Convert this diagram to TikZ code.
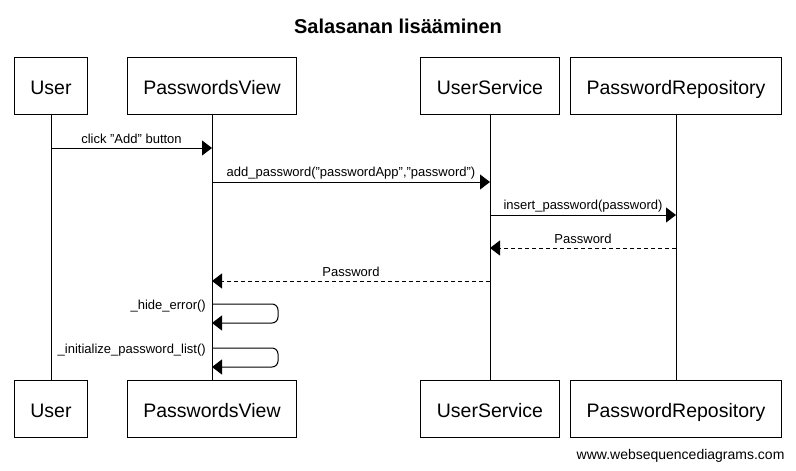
\documentclass[tikz,border=0pt]{standalone}
\usepackage{fontspec}
\setmainfont{Liberation Sans}
\usetikzlibrary{arrows.meta, positioning}

\tikzset{
  actor/.style={draw, line width=1pt, inner xsep=16pt, inner ysep=0pt, minimum height=57pt,
    text height=18pt, text depth=0pt, font=\fontsize{19.5}{22}\selectfont},
  life/.style={line width=1pt},
  msg/.style={line width=1pt, -{Triangle[length=10pt,width=15pt]}},
  reply/.style={msg, dash pattern=on 4pt off 3pt},
  lbl/.style={font=\fontsize{13}{15}\selectfont, inner sep=1pt},
}

\begin{document}
\begin{tikzpicture}[x=1pt, y=-1pt]
\useasboundingbox (0,0) rectangle (796,471);
\node[font=\bfseries\fontsize{20}{24}\selectfont] (title) at (398,26) {Salasanan lisääminen};

% top row
\node[actor] (user) at (51,85.5) {User};
\node[actor] (view) at (212,85.5) {PasswordsView};
\node[actor] (service) at (490,85.5) {UserService};
\node[actor] (repo) at (676,85.5) {PasswordRepository};

% bottom row
\node[actor] (userB) at (51,408.5) {User};
\node[actor] (viewB) at (212,408.5) {PasswordsView};
\node[actor] (serviceB) at (490,408.5) {UserService};
\node[actor] (repoB) at (676,408.5) {PasswordRepository};

\draw[life] (user) -- (userB);
\draw[life] (view) -- (viewB);
\draw[life] (service) -- (serviceB);
\draw[life] (repo) -- (repoB);

% messages
\path[msg] (user |- 0,148) edge node[lbl, yshift=9pt] {click "Add" button} (view |- 0,148);
\path[msg] (view |- 0,182) edge node[lbl, yshift=9pt] {add\_password("passwordApp","password")} (service |- 0,182);
\path[msg] (service |- 0,215) edge node[lbl, yshift=9pt] {insert\_password(password)} (repo |- 0,215);
\path[reply] (repo |- 0,248) edge node[lbl, yshift=9pt] {Password} (service |- 0,248);
\path[reply] (service |- 0,281) edge node[lbl, yshift=9pt] {Password} (view |- 0,281);

% self calls
\coordinate (hideA) at (view |- 0,304);
\coordinate (hideB) at (view |- 0,323);
\draw[msg, rounded corners=6pt] (hideA) -- (278,304) -- (278,323) -- (hideB);
\node[lbl, anchor=east] (hide) at (207,306) {\_hide\_error()};

\coordinate (initA) at (view |- 0,348);
\coordinate (initB) at (view |- 0,367);
\draw[msg, rounded corners=6pt] (initA) -- (278,348) -- (278,367) -- (initB);
\node[lbl, anchor=east] (init) at (207,350) {\_initialize\_password\_list()};

\node[anchor=east, font=\fontsize{14}{16}\selectfont] (site) at (788,456) {www.websequencediagrams.com};
\end{tikzpicture}
\end{document}
